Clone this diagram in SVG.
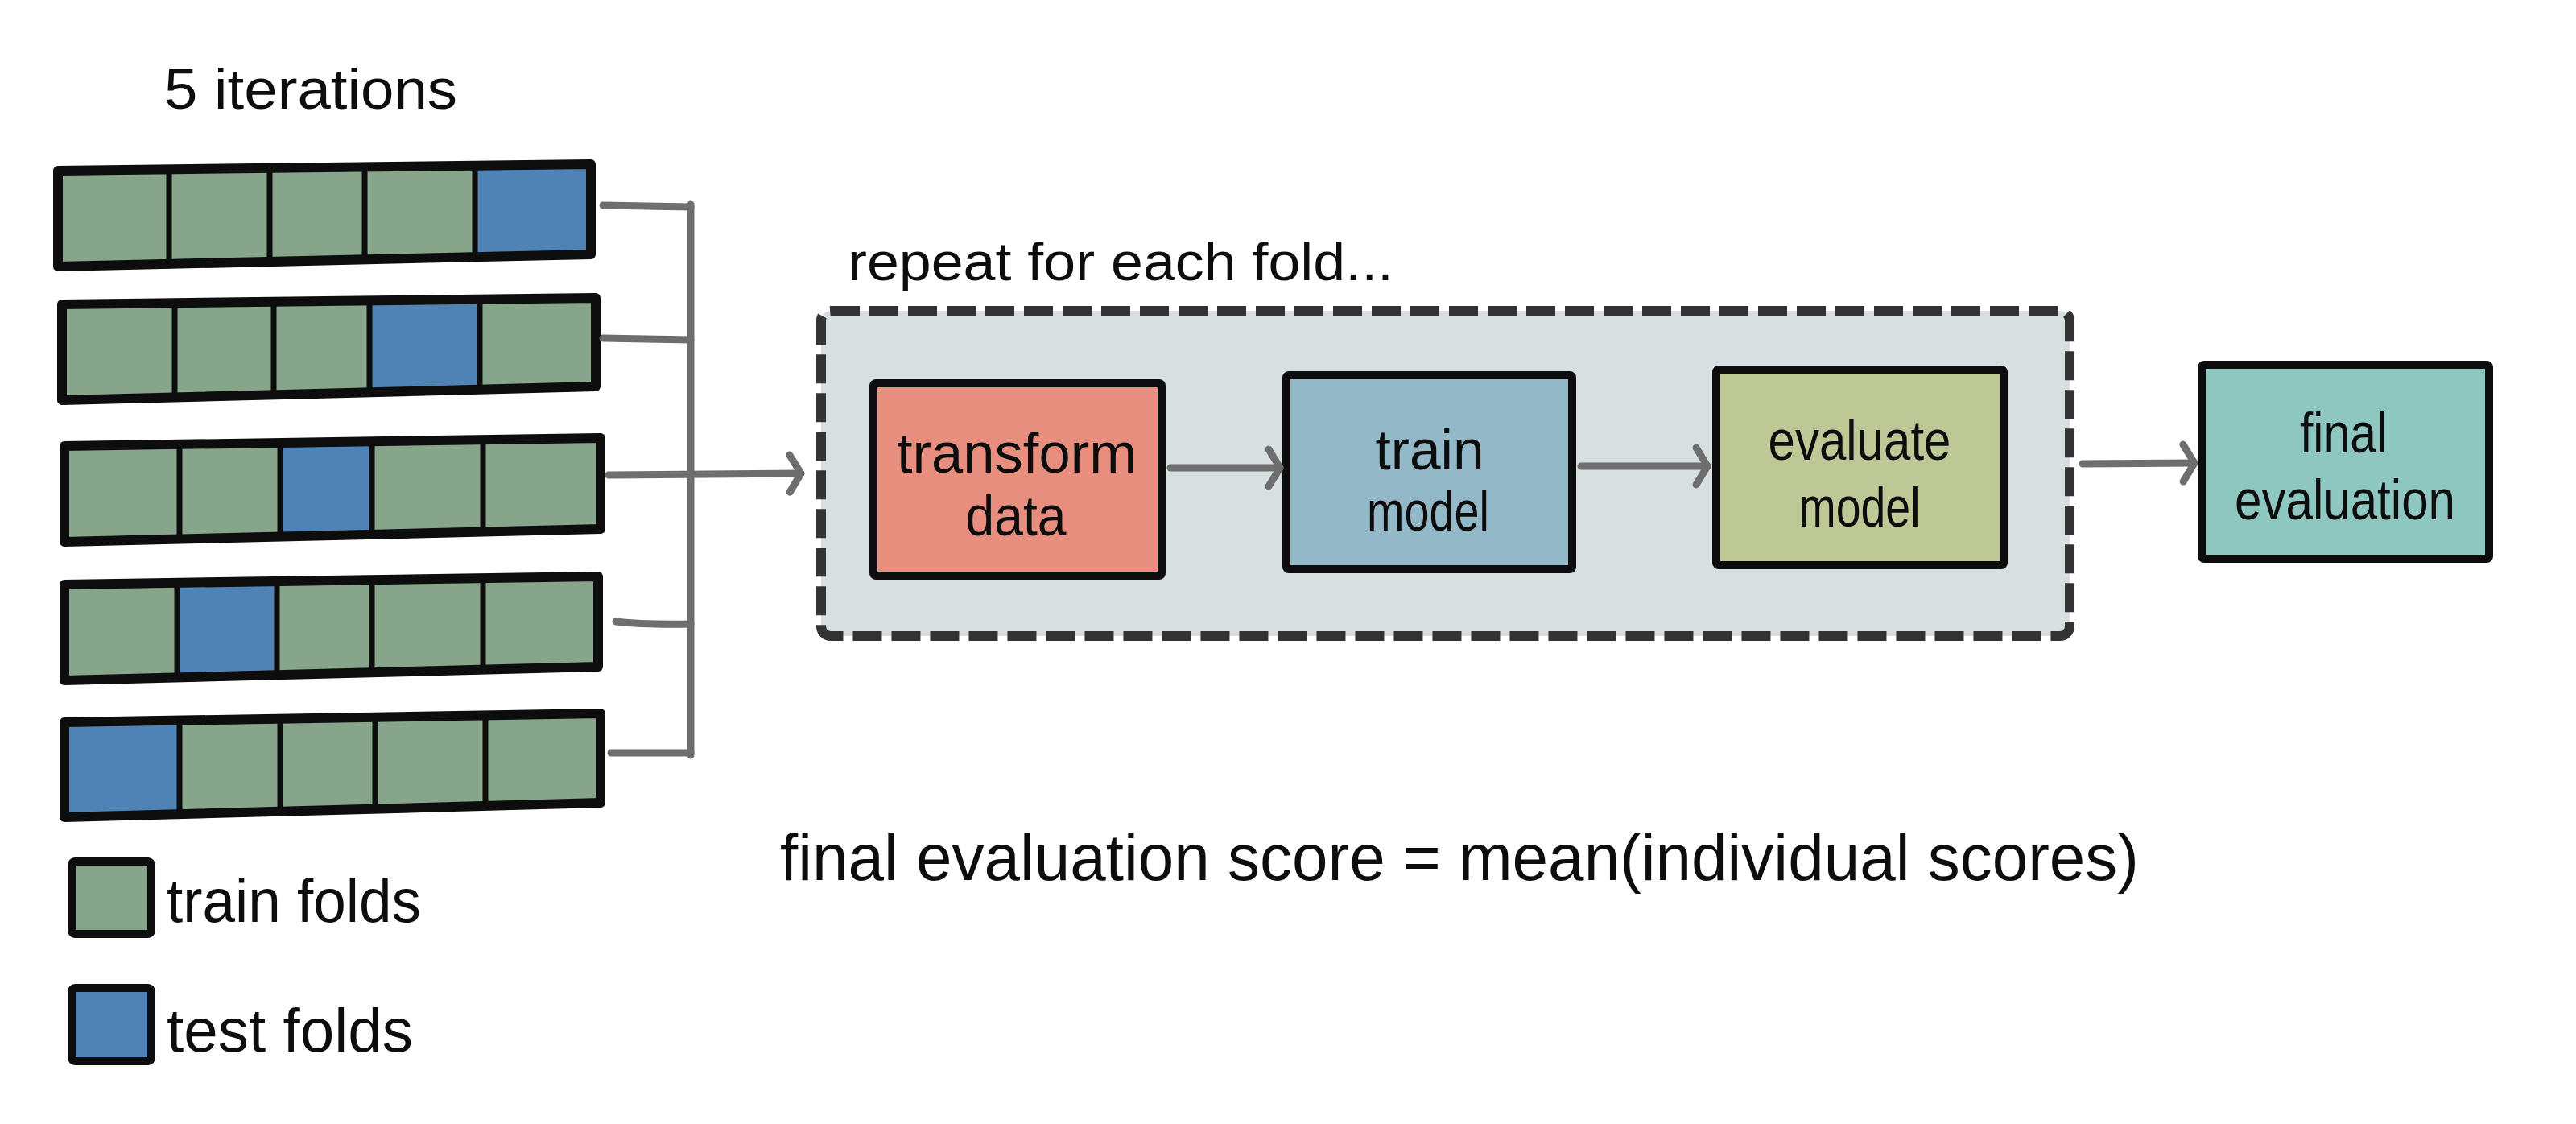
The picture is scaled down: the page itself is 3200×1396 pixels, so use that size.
<svg xmlns="http://www.w3.org/2000/svg" width="3200" height="1396" viewBox="0 0 3200 1396">
<style>
.train{fill:#87a58b}
.test{fill:#4f83b5}
.outline{fill:none;stroke:#0d0d0d;stroke-width:12;stroke-linejoin:round}
.div{fill:none;stroke:#0d0d0d;stroke-width:7}
.conn{fill:none;stroke:#6e6e6e;stroke-width:9;stroke-linecap:round}
.box{stroke:#0d0d0d;stroke-width:10;stroke-linejoin:round}
.lbl{font-family:"Liberation Sans",Arial,sans-serif;fill:#0d0d0d}
.node{font-size:70px;text-anchor:middle}
</style>
<defs>
<marker id="arrow" markerUnits="userSpaceOnUse" markerWidth="60" markerHeight="60" viewBox="-40 -30 60 60" refX="0" refY="0" orient="auto" overflow="visible">
<path d="M-14,-23 L0,0 L-14,23" fill="none" stroke="#6e6e6e" stroke-width="9" stroke-linecap="round" stroke-linejoin="round"/>
</marker>
</defs>
<rect width="3200" height="1396" fill="#ffffff"/>

<text class="lbl" x="204" y="135" font-size="70" textLength="364" lengthAdjust="spacingAndGlyphs">5 iterations</text>

<g id="bar1">
<polygon class="train" points="72,212 210,210.3 210,327.9 72,331"/>
<polygon class="train" points="210,210.3 335,208.8 335,325 210,327.9"/>
<polygon class="train" points="335,208.8 453,207.4 453,322.4 335,325"/>
<polygon class="train" points="453,207.4 590,205.7 590,319.3 453,322.4"/>
<polygon class="test" points="590,205.7 734,204 734,316 590,319.3"/>
<path class="div" d="M210,210.3V327.9M335,208.8V325M453,207.4V322.4M590,205.7V319.3"/>
<polygon class="outline" points="72,212 734,204 734,316 72,331"/>
</g>
<g id="bar2">
<polygon class="train" points="77,378 217,376.3 217,493.4 77,497"/>
<polygon class="train" points="217,376.3 340,374.8 340,490.3 217,493.4"/>
<polygon class="train" points="340,374.8 459,373.4 459,487.2 340,490.3"/>
<polygon class="test" points="459,373.4 596,371.7 596,483.7 459,487.2"/>
<polygon class="train" points="596,371.7 740,370 740,480 596,483.7"/>
<path class="div" d="M217,376.3V493.4M340,374.8V490.3M459,373.4V487.2M596,371.7V483.7"/>
<polygon class="outline" points="77,378 740,370 740,480 77,497"/>
</g>
<g id="bar3">
<polygon class="train" points="80,554 223,551.9 223,669.6 80,673"/>
<polygon class="train" points="223,551.9 348,550 348,666.6 223,669.6"/>
<polygon class="test" points="348,550 462,548.3 462,663.8 348,666.6"/>
<polygon class="train" points="462,548.3 600,546.2 600,660.5 462,663.8"/>
<polygon class="train" points="600,546.2 746,544 746,657 600,660.5"/>
<path class="div" d="M223,551.9V669.6M348,550V666.6M462,548.3V663.8M600,546.2V660.5"/>
<polygon class="outline" points="80,554 746,544 746,657 80,673"/>
</g>
<g id="bar4">
<polygon class="train" points="80,726 220,723.9 220,841.4 80,845"/>
<polygon class="test" points="220,723.9 344,722 344,838.2 220,841.4"/>
<polygon class="train" points="344,722 462,720.2 462,835.2 344,838.2"/>
<polygon class="train" points="462,720.2 600,718.2 600,831.7 462,835.2"/>
<polygon class="train" points="600,718.2 743,716 743,828 600,831.7"/>
<path class="div" d="M220,723.9V841.4M344,722V838.2M462,720.2V835.2M600,718.2V831.7"/>
<polygon class="outline" points="80,726 743,716 743,828 80,845"/>
</g>
<g id="bar5">
<polygon class="test" points="80,897 223,894.6 223,1011.1 80,1015"/>
<polygon class="train" points="223,894.6 348,892.6 348,1007.8 223,1011.1"/>
<polygon class="train" points="348,892.6 466,890.6 466,1004.6 348,1007.8"/>
<polygon class="train" points="466,890.6 603,888.4 603,1000.9 466,1004.6"/>
<polygon class="train" points="603,888.4 746,886 746,997 603,1000.9"/>
<path class="div" d="M223,894.6V1011.1M348,892.6V1007.8M466,890.6V1004.6M603,888.4V1000.9"/>
<polygon class="outline" points="80,897 746,886 746,997 80,1015"/>
</g>

<g id="legend-train">
<rect class="train box" x="89" y="1070" width="99" height="90" rx="4"/>
<text class="lbl" x="207" y="1145" font-size="76" textLength="316" lengthAdjust="spacingAndGlyphs">train folds</text>
</g>
<g id="legend-test">
<rect class="test box" x="89" y="1227" width="99" height="91" rx="4"/>
<text class="lbl" x="207" y="1306" font-size="76" textLength="306" lengthAdjust="spacingAndGlyphs">test folds</text>
</g>

<g id="repeat-group">
<rect x="1020" y="386" width="1551" height="404" rx="12" fill="#d7dfe1" stroke="#333333" stroke-width="12" stroke-dasharray="36 12"/>
<text class="lbl" x="1053" y="348" font-size="66" textLength="678" lengthAdjust="spacingAndGlyphs">repeat for each fold...</text>
</g>

<g id="transform">
<rect class="box" x="1085" y="476" width="358" height="239" rx="3" fill="#e88e7f"/>
<text class="lbl node" x="1263" y="587" textLength="298" lengthAdjust="spacingAndGlyphs">transform</text>
<text class="lbl node" x="1262" y="665" textLength="125" lengthAdjust="spacingAndGlyphs">data</text>
</g>
<g id="train-model">
<rect class="box" x="1598" y="466" width="355" height="241" rx="3" fill="#93b8c8"/>
<text class="lbl node" x="1776" y="583" textLength="135" lengthAdjust="spacingAndGlyphs">train</text>
<text class="lbl node" x="1774" y="659" textLength="152" lengthAdjust="spacingAndGlyphs">model</text>
</g>
<g id="evaluate-model">
<rect class="box" x="2132" y="459" width="357" height="243" rx="3" fill="#bec796"/>
<text class="lbl node" x="2310" y="571" textLength="227" lengthAdjust="spacingAndGlyphs">evaluate</text>
<text class="lbl node" x="2310" y="654" textLength="151" lengthAdjust="spacingAndGlyphs">model</text>
</g>
<g id="final-evaluation">
<rect class="box" x="2735" y="453" width="357" height="241" rx="3" fill="#8ec7c0"/>
<text class="lbl node" x="2911" y="562" textLength="108" lengthAdjust="spacingAndGlyphs">final</text>
<text class="lbl node" x="2913" y="645" textLength="274" lengthAdjust="spacingAndGlyphs">evaluation</text>
</g>

<text class="lbl" x="969" y="1093" font-size="82" textLength="1688" lengthAdjust="spacingAndGlyphs">final evaluation score = mean(individual scores)</text>

<g id="connectors">
<path class="conn" d="M858,254V938"/>
<path class="conn" d="M749,255L858,257"/>
<path class="conn" d="M749,420L858,422"/>
<path class="conn" d="M765,772Q800,776 858,775"/>
<path class="conn" d="M759,935L858,935"/>
<path class="conn" d="M756,590L995,588" marker-end="url(#arrow)"/>
<path class="conn" d="M1454,581L1590,581" marker-end="url(#arrow)"/>
<path class="conn" d="M1964,579L2121,579" marker-end="url(#arrow)"/>
<path class="conn" d="M2587,576L2726,575" marker-end="url(#arrow)"/>
</g>
</svg>
